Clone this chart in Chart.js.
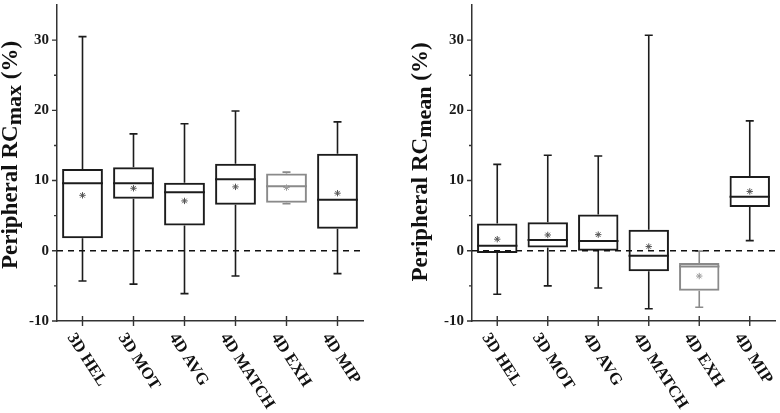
<!DOCTYPE html>
<html>
<head>
<meta charset="utf-8">
<script src="https://cdn.jsdelivr.net/npm/chart.js@4/dist/chart.umd.min.js"></script>
<style>
  html, body { margin: 0; padding: 0; background: #ffffff; }
  #wrap { position: relative; width: 780px; height: 413px; }
  canvas { position: absolute; top: 0; }
</style>
</head>
<body>
<div id="wrap">
  <canvas id="cMax" width="390" height="413" style="left:0px"></canvas>
  <canvas id="cMean" width="390" height="413" style="left:390px"></canvas>
</div>
<script>
// ---------- DATA ----------
const categories = ['3D HEL', '3D MOT', '4D AVG', '4D MATCH', '4D EXH', '4D MIP'];
const boxColors = ['#1c1c1c', '#1c1c1c', '#1c1c1c', '#1c1c1c', '#8a8a8a', '#1c1c1c'];
const yTicks = [-10, 0, 10, 20, 30];
const yMinorTicks = [-5, 5, 15, 25];

// Peripheral RC max (%)
const maxLow    = [-4.3, -4.75, -6.1, -3.6, 6.7, -3.25];
const maxQ1     = [1.8, 7.4, 3.6, 6.55, 6.85, 3.15];
const maxMedian = [9.6, 9.6, 8.35, 10.2, 9.2, 7.25];
const maxQ3     = [11.65, 11.9, 9.7, 12.4, 11.0, 13.8];
const maxHigh   = [30.5, 16.65, 18.1, 19.9, 11.2, 18.35];
const maxMean   = [7.9, 8.9, 7.1, 9.1, 9.0, 8.2];

// Peripheral RC mean (%)
const meanLow    = [-6.2, -5.0, -5.3, -8.25, -8.05, 1.45];
const meanQ1     = [-0.3, 0.45, 0.0, -2.9, -5.7, 6.25];
const meanMedian = [0.7, 1.55, 1.4, -0.7, -2.25, 7.7];
const meanQ3     = [3.9, 4.05, 5.15, 3.0, -1.75, 10.65];
const meanHigh   = [12.3, 13.6, 13.5, 30.7, -0.05, 18.5];
const meanMean   = [1.65, 2.25, 2.3, 0.6, -3.6, 8.45];

// ---------- RENDERING ----------
const SERIF = '"Liberation Serif", "Times New Roman", serif';

const boxPlugin = {
  id: 'boxExtras',
  beforeDatasetsDraw(chart) {
    const cfg = chart.options.plugins.boxExtras;
    const ctx = chart.ctx;
    const y = chart.scales.y;
    const meta = chart.getDatasetMeta(0);
    ctx.save();
    meta.data.forEach((el, i) => {
      const col = boxColors[i];
      const half = el.width / 2;
      const yq1 = y.getPixelForValue(cfg.q1[i]);
      const yq3 = y.getPixelForValue(cfg.q3[i]);
      const ylo = y.getPixelForValue(cfg.low[i]);
      const yhi = y.getPixelForValue(cfg.high[i]);
      const ymed = y.getPixelForValue(cfg.median[i]);
      ctx.strokeStyle = col;
      ctx.lineWidth = 1.6;
      ctx.beginPath();
      ctx.moveTo(el.x, yq3); ctx.lineTo(el.x, yhi);
      ctx.moveTo(el.x, yq1); ctx.lineTo(el.x, ylo);
      ctx.moveTo(el.x - 4, yhi); ctx.lineTo(el.x + 4, yhi);
      ctx.moveTo(el.x - 4, ylo); ctx.lineTo(el.x + 4, ylo);
      ctx.stroke();
      ctx.lineWidth = 2;
      ctx.beginPath();
      ctx.moveTo(el.x - half, ymed); ctx.lineTo(el.x + half, ymed);
      ctx.stroke();
    });
    ctx.restore();
  },
  afterDatasetsDraw(chart) {
    const cfg = chart.options.plugins.boxExtras;
    const ctx = chart.ctx;
    const x = chart.scales.x;
    const y = chart.scales.y;
    const area = chart.chartArea;
    ctx.save();
    // zero dashed reference line
    const y0 = y.getPixelForValue(0);
    ctx.strokeStyle = '#111';
    ctx.lineWidth = 1.6;
    ctx.setLineDash([6, 5]);
    ctx.beginPath();
    ctx.moveTo(area.left, y0); ctx.lineTo(area.right, y0);
    ctx.stroke();
    ctx.setLineDash([]);
    // y ticks
    ctx.strokeStyle = '#333';
    ctx.lineWidth = 1.4;
    ctx.beginPath();
    yTicks.forEach(v => {
      const p = y.getPixelForValue(v);
      ctx.moveTo(area.left - 5, p); ctx.lineTo(area.left, p);
    });
    yMinorTicks.forEach(v => {
      const p = y.getPixelForValue(v);
      ctx.moveTo(area.left - 3, p); ctx.lineTo(area.left, p);
    });
    // x ticks (crossing axis)
    categories.forEach((c, i) => {
      const p = x.getPixelForValue(i);
      ctx.moveTo(p, area.bottom - 5); ctx.lineTo(p, area.bottom + 5);
    });
    ctx.stroke();
    // x labels rotated clockwise
    ctx.fillStyle = '#111';
    ctx.font = 'bold 16.5px ' + SERIF;
    ctx.textAlign = 'left';
    ctx.textBaseline = 'middle';
    categories.forEach((c, i) => {
      const p = x.getPixelForValue(i);
      ctx.save();
      ctx.translate(p - 12, area.bottom + 14);
      ctx.rotate(57 * Math.PI / 180);
      ctx.fillText(c, 0, 0);
      ctx.restore();
    });
    // y title with subscript
    ctx.save();
    ctx.translate(cfg.titleX, cfg.titleCenterY);
    ctx.rotate(-Math.PI / 2);
    ctx.textBaseline = 'alphabetic';
    ctx.textAlign = 'left';
    const fMain = 'bold 23px ' + SERIF;
    const parts = [
      { t: 'Peripheral RC', f: fMain, dy: 0 },
      { t: cfg.sub, f: 'bold 22px ' + SERIF, dy: 4 },
      { t: ' (%)', f: fMain, dy: 0 }
    ];
    let total = 0;
    parts.forEach(pt => { ctx.font = pt.f; pt.w = ctx.measureText(pt.t).width; total += pt.w; });
    let cx = -total / 2;
    parts.forEach(pt => {
      ctx.font = pt.f;
      ctx.fillText(pt.t, cx, pt.dy);
      cx += pt.w;
    });
    ctx.restore();
    ctx.restore();
  }
};

function makeChart(id, low, q1, median, q3, high, mean, sub, yWidth, rightPad, titleX, titleCenterY) {
  return new Chart(document.getElementById(id), {
    type: 'bar',
    data: {
      labels: categories,
      datasets: [
        {
          type: 'bar',
          data: q1.map((v, i) => [v, q3[i]]),
          backgroundColor: 'rgba(255,255,255,0)',
          borderColor: boxColors,
          borderWidth: 2,
          borderSkipped: false,
          barPercentage: 0.8,
          categoryPercentage: 1.0
        },
        {
          type: 'line',
          data: mean,
          showLine: false,
          pointStyle: 'star',
          pointRadius: 3.2,
          pointBorderWidth: 1,
          pointBorderColor: boxColors.map(c => c === '#1c1c1c' ? '#555' : '#9a9a9a'),
          pointBackgroundColor: 'rgba(0,0,0,0)'
        }
      ]
    },
    options: {
      responsive: false,
      animation: false,
      devicePixelRatio: 1,
      layout: { padding: { top: 3, right: rightPad, left: 0, bottom: 0 } },
      plugins: {
        legend: { display: false },
        tooltip: { enabled: false },
        title: { display: false },
        boxExtras: { low, q1, median, q3, high, sub, titleX, titleCenterY }
      },
      scales: {
        x: {
          type: 'category',
          offset: true,
          grid: { display: false, drawTicks: false },
          border: { display: true, color: '#333', width: 1.5 },
          ticks: { display: false },
          afterFit: s => { s.height = 92; s.paddingLeft = 0; s.paddingRight = 0; }
        },
        y: {
          min: -10,
          max: 35,
          afterBuildTicks: s => { s.ticks = yTicks.map(v => ({ value: v })); },
          grid: { display: false, drawTicks: false },
          border: { display: true, color: '#333', width: 1.5 },
          ticks: {
            color: '#1a1a1a',
            padding: 8,
            font: { family: SERIF, size: 15, weight: 'bold' }
          },
          afterFit: s => { s.width = yWidth; s.paddingTop = 0; s.paddingBottom = 0; }
        }
      }
    },
    plugins: [boxPlugin]
  });
}

makeChart('cMax', maxLow, maxQ1, maxMedian, maxQ3, maxHigh, maxMean, 'max', 57, 27, 17, 155);
makeChart('cMean', meanLow, meanQ1, meanMedian, meanQ3, meanHigh, meanMean, 'mean', 82, 1, 37, 162);
</script>
</body>
</html>
